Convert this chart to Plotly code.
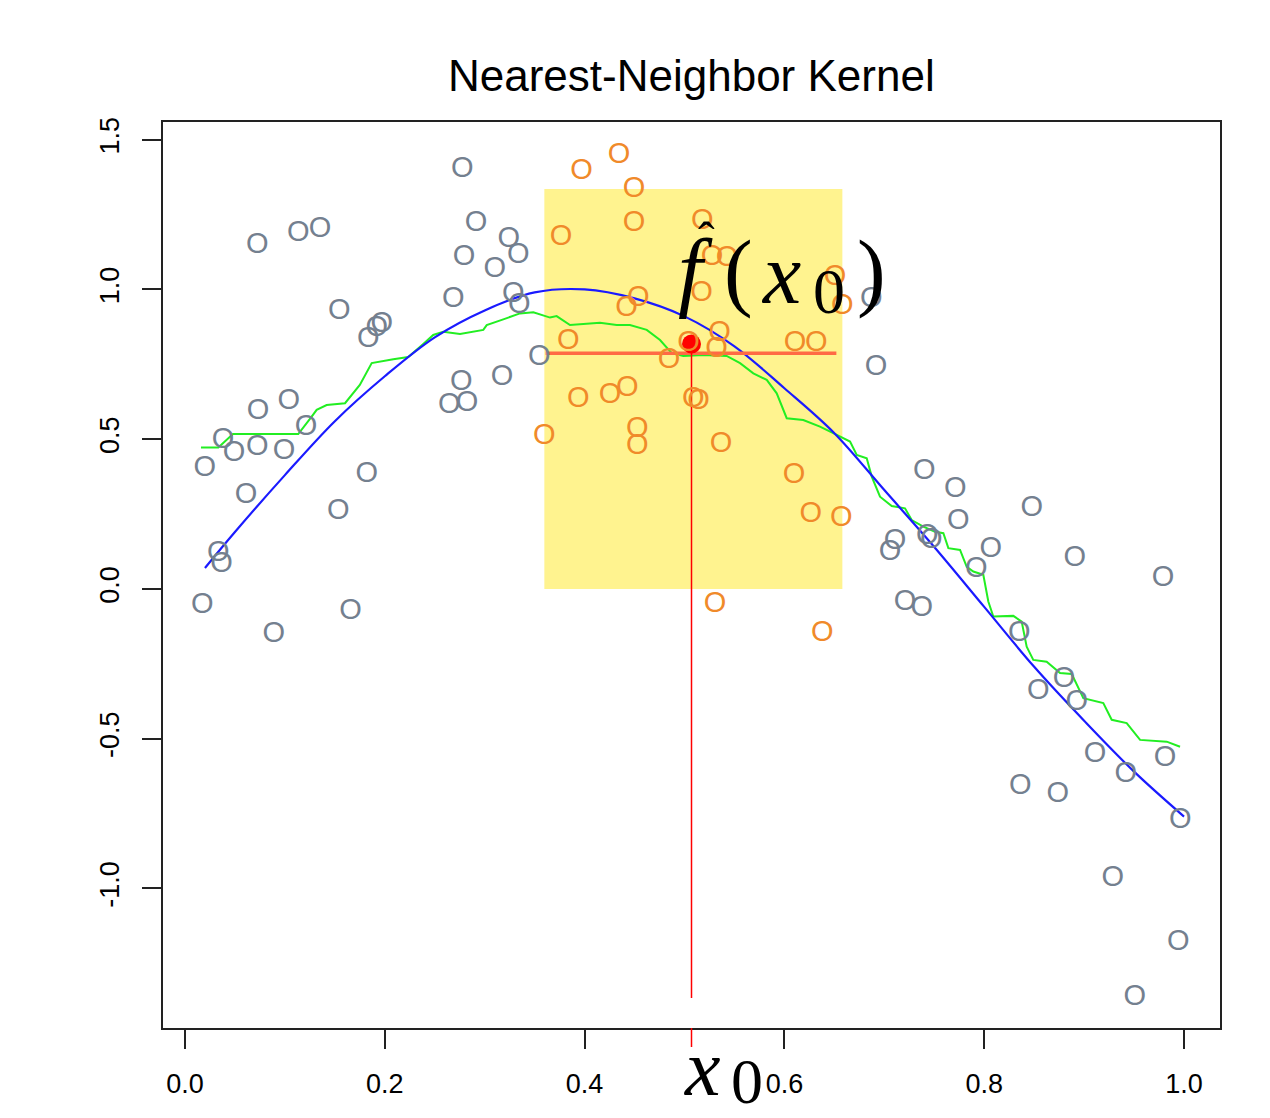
import plotly.graph_objects as go

# ---------------- data ----------------
gray_x = [0.2776, 0.0724, 0.1134, 0.1351, 0.2913, 0.3240, 0.3336, 0.2793, 0.3100, 0.2686,
          0.3287, 0.3347, 0.1545, 0.1969, 0.1919, 0.1835, 0.3547, 0.2766, 0.3173, 0.2646,
          0.2823, 0.0731, 0.1038, 0.1211, 0.0380, 0.0490, 0.0724, 0.0991, 0.0197, 0.1819,
          0.0611, 0.1535, 0.0334, 0.0367, 0.0173, 0.1658, 0.0888, 0.7400, 0.7710, 0.8475,
          0.7740, 0.7107, 0.7057, 0.7430, 0.7470, 0.8065, 0.7920, 0.8906, 0.9790, 0.7207,
          0.7374, 0.8350, 0.8800, 0.8540, 0.8926, 0.9110, 0.9810, 0.9416, 0.8360, 0.8736,
          0.9963, 0.9286, 0.9943, 0.9506, 0.6870, 0.6917]
gray_y = [1.412, 1.158, 1.198, 1.211, 1.232, 1.179, 1.125, 1.117, 1.078, 0.978,
          0.993, 0.956, 0.937, 0.893, 0.879, 0.845, 0.784, 0.700, 0.716, 0.623,
          0.629, 0.604, 0.638, 0.551, 0.505, 0.463, 0.484, 0.470, 0.412, 0.392,
          0.323, 0.269, 0.130, 0.091, -0.046, -0.066, -0.140, 0.403, 0.342, 0.280,
          0.235, 0.169, 0.133, 0.186, 0.173, 0.141, 0.077, 0.114, 0.047, -0.033,
          -0.053, -0.139, -0.293, -0.332, -0.368, -0.541, -0.554, -0.608, -0.649, -0.677,
          -0.762, -0.957, -1.170, -1.352, 0.976, 0.750]

orange_x = [0.3970, 0.4344, 0.4494, 0.4494, 0.3764, 0.5178, 0.5275, 0.5425, 0.5170, 0.6507,
            0.6580, 0.4538, 0.4420, 0.3837, 0.5350, 0.5320, 0.5040, 0.4845, 0.6106, 0.6320,
            0.3937, 0.4254, 0.4427, 0.5088, 0.5140, 0.3597, 0.4528, 0.4528, 0.5365, 0.6096,
            0.6263, 0.6570, 0.5305, 0.6380]
orange_y = [1.405, 1.458, 1.346, 1.232, 1.185, 1.238, 1.119, 1.115, 0.998, 1.052,
            0.954, 0.982, 0.948, 0.837, 0.865, 0.809, 0.831, 0.774, 0.831, 0.831,
            0.642, 0.656, 0.681, 0.642, 0.637, 0.520, 0.542, 0.486, 0.492, 0.388,
            0.261, 0.247, -0.040, -0.139]

true_x = [0.02, 0.05, 0.10, 0.15, 0.20, 0.25, 0.30, 0.35, 0.40, 0.45, 0.50,
          0.55, 0.60, 0.65, 0.70, 0.75, 0.80, 0.85, 0.90, 0.95, 1.00]
true_y = [0.07, 0.19, 0.38, 0.56, 0.71, 0.84, 0.93, 0.99, 1.00, 0.97, 0.91,
          0.81, 0.67, 0.52, 0.33, 0.14, -0.06, -0.26, -0.44, -0.61, -0.76]

nn_x = [0.016, 0.0334, 0.048, 0.1134, 0.1268, 0.1318, 0.1418, 0.1602, 0.175, 0.1869,
        0.2085, 0.2235, 0.2385, 0.2485, 0.2585, 0.2753, 0.2986, 0.302, 0.3186, 0.3353,
        0.3487, 0.3654, 0.372, 0.3854, 0.4154, 0.4321, 0.4454, 0.4622, 0.4755, 0.4872,
        0.4988, 0.5188, 0.5422, 0.5556, 0.5689, 0.5823, 0.5923, 0.5989, 0.6023, 0.6189,
        0.6356, 0.6489, 0.6657, 0.6724, 0.6824, 0.6874, 0.6957, 0.7074, 0.7207, 0.7274,
        0.7390, 0.7508, 0.7591, 0.7641, 0.7758, 0.7825, 0.7891, 0.7991, 0.8041, 0.8091,
        0.8291, 0.8375, 0.8425, 0.8491, 0.8625, 0.8759, 0.8876, 0.8992, 0.9192, 0.9276,
        0.9426, 0.9560, 0.9827, 0.9960]
nn_y = [0.472, 0.472, 0.517, 0.517, 0.575, 0.598, 0.614, 0.620, 0.681, 0.754,
        0.767, 0.774, 0.818, 0.848, 0.859, 0.851, 0.865, 0.881, 0.900, 0.920,
        0.924, 0.906, 0.911, 0.881, 0.889, 0.881, 0.881, 0.865, 0.831, 0.787,
        0.778, 0.781, 0.778, 0.754, 0.720, 0.698, 0.653, 0.598, 0.570, 0.564,
        0.542, 0.520, 0.492, 0.447, 0.436, 0.375, 0.308, 0.277, 0.269, 0.230,
        0.208, 0.191, 0.186, 0.136, 0.130, 0.074, 0.058, 0.047, -0.042, -0.092,
        -0.090, -0.109, -0.193, -0.237, -0.243, -0.281, -0.284, -0.365, -0.381, -0.437,
        -0.448, -0.504, -0.510, -0.527]

x0 = 0.507
fhat_x0 = 0.818
fit_level = 0.787
fit_span = [0.361, 0.652]
window_top = 1.335
vline_bottom = -1.366

x_tickvals = [0.0, 0.2, 0.4, 0.6, 0.8, 1.0]
x_ticktext = ["0.0", "0.2", "0.4", "0.6", "0.8", "1.0"]
y_tickvals = [-1.0, -0.5, 0.0, 0.5, 1.0, 1.5]
y_ticktext = ["-1.0", "-0.5", "0.0", "0.5", "1.0", "1.5"]

title_text = "Nearest-Neighbor Kernel"

# ---------------- layout geometry (screen pixels) ----------------
PAGE_OFF = 8                      # default body margin of the html page
PLOT_L, PLOT_R, PLOT_T, PLOT_B = 163, 1220, 122, 1028
FIG_W, FIG_H = 1262, 1110
PW, PH = PLOT_R - PLOT_L, PLOT_B - PLOT_T
Y_RANGE = [-1.466, 1.559]
# the "O" glyphs sit a few pixels high when centred; shift their overlay axis to compensate
GLYPH_SHIFT = 3.5 * (Y_RANGE[1] - Y_RANGE[0]) / PH


def px(xpix):
    return (xpix - PLOT_L) / PW


def py(ypix):
    return (PLOT_B - ypix) / PH


SANS = "Liberation Sans, Arial, sans-serif"
SERIF = "Liberation Serif, Times New Roman, serif"
GRAY = "#74808f"
ORANGE = "#f08a2a"

fig = go.Figure()

fig.add_shape(type="rect", xref="x", yref="y",
              x0=min(orange_x), x1=max(orange_x), y0=0, y1=window_top,
              fillcolor="#fff38f", line=dict(width=0), layer="below")

fig.add_trace(go.Scatter(x=gray_x, y=gray_y, mode="text", text=["O"] * len(gray_x), yaxis="y2",
                         textfont=dict(family=SANS, size=29, color=GRAY),
                         textposition="middle center", hoverinfo="skip", showlegend=False))
fig.add_trace(go.Scatter(x=orange_x, y=orange_y, mode="text", text=["O"] * len(orange_x), yaxis="y2",
                         textfont=dict(family=SANS, size=29, color=ORANGE),
                         textposition="middle center", hoverinfo="skip", showlegend=False))

fig.add_trace(go.Scatter(x=nn_x, y=nn_y, mode="lines",
                         line=dict(color="#22ee22", width=2), hoverinfo="skip", showlegend=False))
fig.add_trace(go.Scatter(x=true_x, y=true_y, mode="lines",
                         line=dict(color="#1a1aff", width=2.2, shape="spline"),
                         hoverinfo="skip", showlegend=False))

fig.add_trace(go.Scatter(x=fit_span, y=[fit_level, fit_level], mode="lines",
                         line=dict(color="#ff6a45", width=3.5), hoverinfo="skip", showlegend=False))
fig.add_trace(go.Scatter(x=[x0, x0], y=[fhat_x0, vline_bottom], mode="lines",
                         line=dict(color="#ff0000", width=1.5), hoverinfo="skip", showlegend=False))
fig.add_trace(go.Scatter(x=[x0], y=[fhat_x0], mode="markers",
                         marker=dict(color="#ff0000", size=19), hoverinfo="skip", showlegend=False))

# red tick on the x axis at x0
fig.add_shape(type="line", xref="x", yref="paper", x0=x0, x1=x0, y0=0, y1=-19 / PH,
              line=dict(color="#ff0000", width=1.5))

# f-hat(x0) label, set piece by piece (math-style spacing)
fhat_pieces = [("<i>f</i>", 695, 271, 88), ("(", 738, 271, 86), ("<i>x</i>", 781, 274, 86),
               ("0", 829, 291, 64), (")", 871, 271, 86), ("ˆ", 706, 240, 50)]
for txt, xx, yy, sz in fhat_pieces:
    fig.add_annotation(x=px(xx), y=py(yy), xref="paper", yref="paper", showarrow=False,
                       text=txt, xanchor="center", yanchor="middle",
                       font=dict(family=SERIF, size=sz, color="black"))

# x0 label below the axis
x0_pieces = [("<i>x</i>", 702, 1068, 80), ("0", 747, 1081, 64)]
for txt, xx, yy, sz in x0_pieces:
    fig.add_annotation(x=px(xx), y=py(yy), xref="paper", yref="paper", showarrow=False,
                       text=txt, xanchor="center", yanchor="middle",
                       font=dict(family=SERIF, size=sz, color="black"))

# title
fig.add_annotation(x=0.5, y=py(76), xref="paper", yref="paper", showarrow=False,
                   text=title_text, xanchor="center", yanchor="middle",
                   font=dict(family=SANS, size=44, color="black"))

fig.update_layout(
    width=FIG_W, height=FIG_H,
    margin=dict(l=PLOT_L - PAGE_OFF, r=FIG_W - (PLOT_R - PAGE_OFF),
                t=PLOT_T - PAGE_OFF, b=FIG_H - (PLOT_B - PAGE_OFF)),
    paper_bgcolor="white", plot_bgcolor="white",
    showlegend=False,
    xaxis=dict(range=[-0.022, 1.036], tickvals=x_tickvals, ticktext=x_ticktext,
               showgrid=False, zeroline=False, showline=True, mirror=True,
               linecolor="#222222", linewidth=2, ticks="outside", ticklen=19, tickwidth=1.5,
               tickcolor="#222222", ticklabelstandoff=12,
               tickfont=dict(family=SANS, size=27, color="black")),
    yaxis=dict(range=Y_RANGE, tickvals=y_tickvals, ticktext=y_ticktext,
               showgrid=False, zeroline=False, showline=True, mirror=True,
               linecolor="#222222", linewidth=2, ticks="outside", ticklen=19, tickwidth=1.5,
               tickcolor="#222222", tickangle=-90, ticklabelstandoff=12,
               tickfont=dict(family=SANS, size=27, color="black")),
    yaxis2=dict(overlaying="y", range=[Y_RANGE[0] + GLYPH_SHIFT, Y_RANGE[1] + GLYPH_SHIFT],
                visible=False, showgrid=False, zeroline=False),
)

fig.write_html("out.html")
